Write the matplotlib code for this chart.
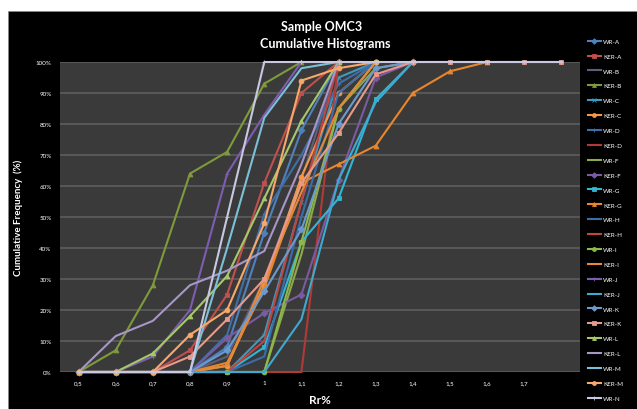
import numpy as np
import matplotlib
matplotlib.use('Agg')
import matplotlib.pyplot as plt
from matplotlib.patches import Rectangle
from matplotlib.ticker import PercentFormatter

plt.rcParams['font.family'] = ['Lato', 'DejaVu Sans']

# categories (Rr%), last one has no label in the original
categories = ['0,5', '0,6', '0,7', '0,8', '0,9', '1', '1,1', '1,2', '1,3', '1,4', '1,5', '1,6', '1,7', '']
N = np.nan

wr_a = [0, 0, 0, 0, 8, 45, 78, 100]
ker_a = [0, 0, 0, 7, 25, 61, 90, 100]
wr_b = [0, 0, 0, 0, 5, 30, 62, 100]
ker_b = [0, 7, 28, 64, 71, 93, 100]
wr_c = [0, 0, 0, 0, 0, 12, 55, 95, 100]
ker_c = [0, 0, 0, 0, 2, 28, 63, 90, 100]
wr_d = [0, 0, 0, 0, 12, 51, 70, 93, 100]
ker_d = [0, 0, 0, 0, 0, 0, 0, 100]
wr_f = [0, 0, 0, 0, 0, 0, 38, 85, 98, 100]
ker_f = [0, 0, 0, 0, 11, 19, 25, 62, 95, 100]
wr_g = [0, 0, 0, 0, 0, 8, 42, 56, 88, 100]
ker_g = [0, 0, 0, 0, 3, 27, 61, 67, 73, 90, 97, 100]
wr_h = [0, 0, 0, 0, 0, 5, 50, 90, 100]
ker_h = [0, 0, 0, 0, 0, 10, 55, 100]
wr_i = [0, 0, 0, 0, 0, 0, 42, 85, 100]
ker_i = [0, 0, 0, 0, 2, 30, 58, 85, 100]
wr_j = [0, 0, 5, 20, 64, 83, 100]
ker_j = [0, 0, 0, 0, 0, 0, 17, 62, 87, 100]
wr_k = [0, 0, 0, 0, 7, 26, 46, 80, 98, 100]
ker_k = [0, 0, 0, 5, 17, 30, 61, 77, 96, 100, 100, 100, 100, 100]
wr_l = [0, 0, 6, 18, 31, 56, 81, 100]
ker_l = [0, 11.6, 16.5, 28, 32.7, 39, 67, 100]
wr_m = [0, 0, 0, 0, 40, 82, 98, 100]
ker_m = [0, 0, 0, 12, 20, 48, 94, 98, 100]
wr_n = [0, 0, 0, 0, 50, 100, 100, 100, 100, 100, 100, 100, 100, 100]

names = ['WR-A', 'KER-A', 'WR-B', 'KER-B', 'WR-C', 'KER-C', 'WR-D', 'KER-D', 'WR-F', 'KER-F',
         'WR-G', 'KER-G', 'WR-H', 'KER-H', 'WR-I', 'KER-I', 'WR-J', 'KER-J', 'WR-K', 'KER-K',
         'WR-L', 'KER-L', 'WR-M', 'KER-M', 'WR-N']
series = [wr_a, ker_a, wr_b, ker_b, wr_c, ker_c, wr_d, ker_d, wr_f, ker_f,
          wr_g, ker_g, wr_h, ker_h, wr_i, ker_i, wr_j, ker_j, wr_k, ker_k,
          wr_l, ker_l, wr_m, ker_m, wr_n]

colors = ['#4F81BD', '#C0504D', '#5B5F7A', '#7F9A3A', '#3E9AC0', '#F79646', '#3F6FA8', '#B03A36',
          '#8EA84E', '#7A5BA0', '#31B6D6', '#E8862E', '#3B6DAA', '#C24440', '#8DB84A', '#E48A3A',
          '#7D5DB0', '#3FA9CF', '#6B9AD0', '#E79A8A', '#A6C86A', '#A896C8', '#7CC0D8', '#F7A86A',
          '#C8C8E0']
markers = ['D', 's', '', '^', 'x', 'o', '+', '', '', 'D', 's', '^', '', '', 'o', '',
           '+', '', 'D', 's', '^', '', '', 'o', '+']

fig = plt.figure(figsize=(6.37, 4.10), dpi=100, facecolor='white')
fig.patches.append(Rectangle((8 / 637, 0), 1, 398 / 410, transform=fig.transFigure,
                             facecolor='black', edgecolor='#888888', lw=0.5, zorder=-5))

ax = fig.add_axes([60 / 637, 37 / 410, 520 / 637, 310 / 410])
ax.set_zorder(2)
ax.set_facecolor('#3a3a3a')
for s in ax.spines.values():
    s.set_visible(False)

x = np.arange(len(categories))
for name, vals, c, m in zip(names, series, colors, markers):
    y = np.full(len(categories), N)
    y[:len(vals)] = vals
    ax.plot(x, y, color=c, lw=1.5, marker=m if m else None, markersize=3.5,
            markeredgewidth=0.6, markeredgecolor=c, label=name, clip_on=False)

ax.set_xlim(-0.5, len(categories) - 0.5)
ax.set_ylim(0, 100)
ax.set_yticks(np.arange(0, 101, 10))
ax.yaxis.set_major_formatter(PercentFormatter(decimals=0))
ax.set_xticks(x)
ax.set_xticklabels(categories)
ax.tick_params(colors='white', labelsize=4.5, length=0, pad=6)
ax.grid(axis='y', color='#5e5e5e', lw=1.2)
ax.set_axisbelow(True)

ax.set_ylabel('Cumulative Frequency  (%)', color='white', fontsize=7, fontweight='bold')
ax.yaxis.set_label_coords(-37 / 520, 0.5)
ax.set_xlabel('Rr%', color='white', fontsize=8.5, fontweight='bold', labelpad=6)

fig.text(0.505, 1 - 27 / 410, 'Sample OMC3', color='white', fontsize=9, fontweight='bold',
         ha='center', va='center')
fig.text(0.51, 1 - 44 / 410, 'Cumulative Histograms', color='white', fontsize=9, fontweight='bold',
         ha='center', va='center')

leg = fig.legend(loc='upper left', bbox_to_anchor=(585 / 637, 1 - 37 / 410), frameon=False,
                 fontsize=4.5, labelcolor='white', handlelength=2.2, handletextpad=0.3,
                 labelspacing=1.52, borderaxespad=0, markerscale=0.8)

fig.savefig('out.png', dpi=100, facecolor='white')
